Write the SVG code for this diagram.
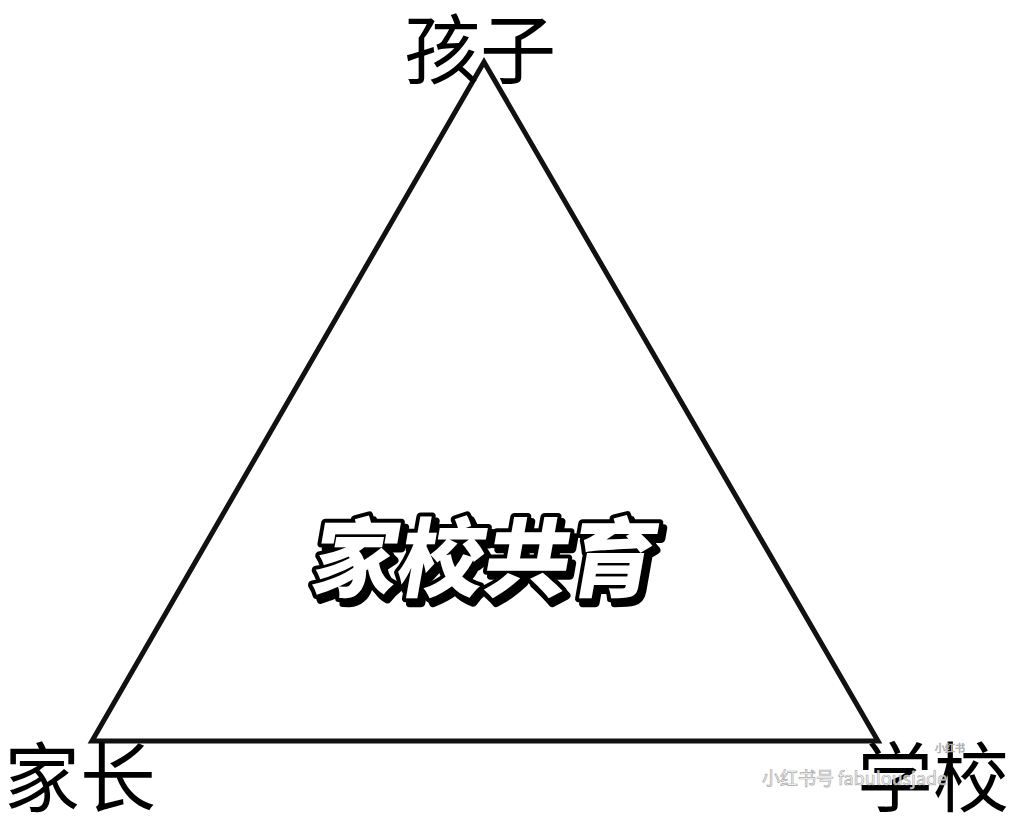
<svg xmlns="http://www.w3.org/2000/svg" width="1024" height="819" viewBox="0 0 1024 819">
<style>
.lbl{font-family:"Noto Sans CJK SC","Noto Sans",sans-serif;font-size:76px;fill:#000;}
.main{font-family:"Noto Sans CJK SC",sans-serif;font-size:86px;font-weight:900;}
.wm{font-family:"Noto Sans CJK SC","Liberation Sans",sans-serif;font-size:18px;fill:#fff;fill-opacity:0.8;stroke:#aaa;stroke-width:0.7;}
</style>
<rect width="1024" height="819" fill="#fff"/>
<g id="connectors">
<polygon points="484,62 92,741 878,741" fill="none" stroke="#111" stroke-width="5" stroke-linejoin="miter"/>
</g>
<g id="child"><text class="lbl" x="480" y="78" text-anchor="middle">孩子</text></g>
<g id="parent"><text class="lbl" x="80" y="806" text-anchor="middle">家长</text></g>
<g id="school"><text class="lbl" x="933" y="806" text-anchor="middle">学校</text></g>
<g id="center" transform="translate(480,590) skewX(-10)">
<text class="main" x="5" y="5" text-anchor="middle" fill="#000" stroke="#000" stroke-width="8" stroke-linejoin="round">家校共育</text>
<text class="main" x="0" y="0" text-anchor="middle" fill="#fff" stroke="#000" stroke-width="8" stroke-linejoin="round" paint-order="stroke">家校共育</text>
</g>
<g id="watermark">
<text class="wm" x="762" y="785">小红书号 fabulousjade</text>
<text class="wm" x="935" y="752" style="font-size:10px">小红书</text>
</g>
</svg>
